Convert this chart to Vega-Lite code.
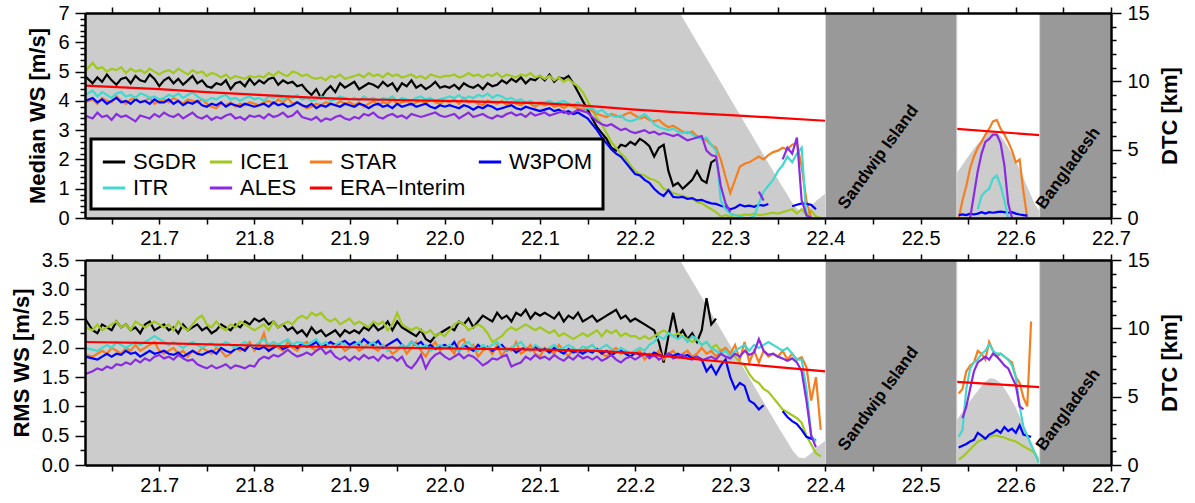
{
"$schema": "https://vega.github.io/schema/vega-lite/v6.json",
"padding": {"left": 10, "top": 3, "right": 5, "bottom": 3},
"background": "white",
"bounds": "flush",
"spacing": 42,
"config": {
  "font": "Liberation Sans",
  "view": {"stroke": null},
  "axis": {"labelFont": "Liberation Sans", "labelFontSize": 20, "labelColor": "black", "titleFont": "Liberation Sans", "titleFontSize": 22, "titleFontWeight": "bold", "titleColor": "black", "domainColor": "black", "domainWidth": 2.5, "tickColor": "black", "tickWidth": 1.5, "grid": false, "labelFlush": false, "labelOverlap": false, "labelBound": false, "zindex": 1}
},
"datasets": {
"dtc": [{"x":21.622,"d":15},{"x":22.247,"d":15},{"x":22.352,"d":2.6},{"x":22.36,"d":1.7},{"x":22.366,"d":1.0},{"x":22.372,"d":0.55},{"x":22.378,"d":0.5},{"x":22.384,"d":0.8},{"x":22.39,"d":1.25},{"x":22.4,"d":1.8},{"x":22.401,"d":0},{"x":22.537,"d":0},{"x":22.538,"d":3.3},{"x":22.547,"d":4.2},{"x":22.555,"d":5.0},{"x":22.562,"d":5.6},{"x":22.568,"d":6.1},{"x":22.573,"d":6.35},{"x":22.578,"d":6.3},{"x":22.584,"d":6.0},{"x":22.59,"d":5.4},{"x":22.6,"d":4.2},{"x":22.61,"d":2.6},{"x":22.62,"d":1.0},{"x":22.625,"d":0.5},{"x":22.626,"d":0}],
"land": [{"a":22.4,"b":22.538,"t":22.425,"n":"Sandwip Island"},{"a":22.625,"b":22.7,"t":22.633,"n":"Bangladesh"}],
"eraTop": [{"x":21.622,"v":4.52},{"x":21.65,"v":4.48},{"x":21.7,"v":4.4},{"x":21.75,"v":4.3},{"x":21.8,"v":4.21},{"x":21.85,"v":4.13},{"x":21.9,"v":4.06},{"x":21.95,"v":4.03},{"x":22.0,"v":4.0},{"x":22.1,"v":3.92},{"x":22.15,"v":3.83},{"x":22.2,"v":3.7},{"x":22.25,"v":3.6},{"x":22.3,"v":3.51},{"x":22.35,"v":3.42},{"x":22.4,"v":3.32},{"x":22.47},{"x":22.538,"v":3.04},{"x":22.625,"v":2.83}],
"eraBot": [{"x":21.622,"v":2.1},{"x":21.7,"v":2.08},{"x":21.8,"v":2.04},{"x":21.9,"v":2.01},{"x":22.0,"v":1.99},{"x":22.1,"v":1.97},{"x":22.16,"v":1.95},{"x":22.2,"v":1.91},{"x":22.25,"v":1.83},{"x":22.3,"v":1.75},{"x":22.35,"v":1.67},{"x":22.4,"v":1.6},{"x":22.47},{"x":22.538,"v":1.42},{"x":22.625,"v":1.33}],
"med": [
{"x":21.622,"S":4.85,"I":5.0,"T":3.95,"W":4.0,"R":4.2,"A":3.5},
{"x":21.63,"S":4.6,"I":5.3,"T":4.05,"W":4.1,"R":4.35,"A":3.4},
{"x":21.635,"S":4.8,"I":5.1,"T":3.9,"W":3.95,"R":4.15,"A":3.6},
{"x":21.64,"S":4.65,"I":5.15,"T":4.1,"W":4.05,"R":4.3,"A":3.45},
{"x":21.645,"S":4.9,"I":5.0,"T":4.0,"W":3.9,"R":4.2,"A":3.5},
{"x":21.65,"S":4.7,"I":5.1,"T":3.95,"W":4.0,"R":4.1,"A":3.35},
{"x":21.655,"S":4.55,"I":5.05,"T":4.15,"W":4.1,"R":4.25,"A":3.55},
{"x":21.66,"S":4.75,"I":5.15,"T":4.0,"W":3.95,"R":4.3,"A":3.45},
{"x":21.665,"S":4.8,"I":4.95,"T":3.9,"W":4.0,"R":4.15,"A":3.5},
{"x":21.67,"S":4.6,"I":5.1,"T":4.05,"W":3.9,"R":4.2,"A":3.4},
{"x":21.675,"S":4.85,"I":5.0,"T":4.1,"W":4.05,"R":4.1,"A":3.3},
{"x":21.68,"S":4.7,"I":5.05,"T":3.95,"W":3.95,"R":4.25,"A":3.5},
{"x":21.685,"S":4.65,"I":4.95,"T":4.0,"W":4.0,"R":4.2,"A":3.45},
{"x":21.69,"S":4.9,"I":5.1,"T":4.1,"W":3.9,"R":4.1,"A":3.4},
{"x":21.695,"S":4.75,"I":5.0,"T":3.9,"W":4.05,"R":4.15,"A":3.55},
{"x":21.7,"S":4.5,"I":4.9,"T":4.0,"W":3.95,"R":4.05,"A":3.45},
{"x":21.705,"S":4.7,"I":5.0,"T":4.05,"W":3.95,"R":4.1,"A":3.6},
{"x":21.71,"S":4.8,"I":5.05,"T":3.95,"W":4.05,"R":4.2,"A":3.5},
{"x":21.715,"S":4.6,"I":4.95,"T":4.1,"W":3.9,"R":4.15,"A":3.45},
{"x":21.72,"S":4.75,"I":5.1,"T":4.0,"W":4.0,"R":4.25,"A":3.55},
{"x":21.725,"S":4.55,"I":5.0,"T":3.9,"W":3.85,"R":4.1,"A":3.4},
{"x":21.73,"S":4.7,"I":4.9,"T":4.05,"W":3.95,"R":4.2,"A":3.5},
{"x":21.735,"S":4.85,"I":5.05,"T":4.0,"W":3.9,"R":4.3,"A":3.6},
{"x":21.74,"S":4.6,"I":4.95,"T":3.95,"W":4.0,"R":4.15,"A":3.45},
{"x":21.745,"S":4.7,"I":5.0,"T":4.05,"W":3.85,"R":4.05,"A":3.4},
{"x":21.75,"S":4.5,"I":4.85,"T":3.9,"W":3.8,"R":4.0,"A":3.5},
{"x":21.755,"S":4.45,"I":4.95,"T":3.8,"W":3.9,"R":4.1,"A":3.35},
{"x":21.76,"S":4.6,"I":4.9,"T":3.75,"W":3.85,"R":4.05,"A":3.45},
{"x":21.765,"S":4.55,"I":4.8,"T":3.9,"W":3.95,"R":4.15,"A":3.4},
{"x":21.77,"S":4.7,"I":4.9,"T":3.85,"W":3.8,"R":4.2,"A":3.5},
{"x":21.775,"S":4.4,"I":4.75,"T":3.95,"W":3.9,"R":4.05,"A":3.55},
{"x":21.78,"S":4.6,"I":4.85,"T":3.8,"W":3.85,"R":4.1,"A":3.4},
{"x":21.785,"S":4.65,"I":4.8,"T":3.9,"W":3.8,"R":4.0,"A":3.45},
{"x":21.79,"S":4.5,"I":4.75,"T":3.85,"W":3.9,"R":4.1,"A":3.35},
{"x":21.795,"S":4.75,"I":4.85,"T":3.95,"W":3.85,"R":4.15,"A":3.5},
{"x":21.8,"S":4.55,"I":4.8,"T":3.9,"W":3.8,"R":4.05,"A":3.45},
{"x":21.805,"S":4.7,"I":4.85,"T":3.85,"W":3.85,"R":4.1,"A":3.5},
{"x":21.81,"S":4.6,"I":4.8,"T":3.95,"W":3.9,"R":4.0,"A":3.4},
{"x":21.815,"S":4.75,"I":4.95,"T":4.0,"W":3.8,"R":4.15,"A":3.55},
{"x":21.82,"S":4.8,"I":4.85,"T":3.9,"W":3.95,"R":4.1,"A":3.45},
{"x":21.825,"S":4.55,"I":5.0,"T":4.05,"W":3.85,"R":4.2,"A":3.5},
{"x":21.83,"S":4.7,"I":4.9,"T":3.95,"W":3.9,"R":4.05,"A":3.6},
{"x":21.835,"S":4.6,"I":4.85,"T":4.1,"W":3.8,"R":4.15,"A":3.45},
{"x":21.84,"S":4.65,"I":5.0,"T":3.9,"W":3.85,"R":4.1,"A":3.5},
{"x":21.845,"S":4.5,"I":4.95,"T":3.95,"W":3.95,"R":4.2,"A":3.65},
{"x":21.85,"S":4.55,"I":4.85,"T":3.85,"W":3.85,"R":4.05,"A":3.45},
{"x":21.855,"S":4.35,"I":4.9,"T":3.75,"W":3.8,"R":4.1,"A":3.4},
{"x":21.86,"S":4.2,"I":4.8,"T":3.8,"W":3.9,"R":4.0,"A":3.35},
{"x":21.865,"S":4.4,"I":4.75,"T":3.9,"W":3.75,"R":4.05,"A":3.45},
{"x":21.87,"S":4.1,"I":4.8,"T":3.85,"W":3.85,"R":4.15,"A":3.3},
{"x":21.875,"S":4.35,"I":4.7,"T":3.95,"W":3.8,"R":4.1,"A":3.4},
{"x":21.88,"S":4.5,"I":4.85,"T":3.9,"W":3.9,"R":4.0,"A":3.35},
{"x":21.885,"S":4.3,"I":4.8,"T":3.85,"W":3.85,"R":4.05,"A":3.45},
{"x":21.89,"S":4.6,"I":4.9,"T":4.0,"W":3.8,"R":4.15,"A":3.5},
{"x":21.895,"S":4.45,"I":4.75,"T":3.9,"W":3.9,"R":4.1,"A":3.4},
{"x":21.9,"S":4.55,"I":4.8,"T":3.95,"W":3.85,"R":4.05,"A":3.35},
{"x":21.905,"S":4.65,"I":4.85,"T":3.85,"W":3.8,"R":4.1,"A":3.45},
{"x":21.91,"S":4.4,"I":4.9,"T":3.95,"W":3.9,"R":4.0,"A":3.4},
{"x":21.915,"S":4.5,"I":4.8,"T":3.8,"W":3.85,"R":4.15,"A":3.55},
{"x":21.92,"S":4.6,"I":4.95,"T":3.9,"W":3.75,"R":4.05,"A":3.5},
{"x":21.925,"S":4.55,"I":4.85,"T":4.0,"W":3.85,"R":4.1,"A":3.6},
{"x":21.93,"S":4.45,"I":4.9,"T":3.85,"W":3.9,"R":4.0,"A":3.45},
{"x":21.935,"S":4.65,"I":4.8,"T":3.95,"W":3.8,"R":4.1,"A":3.4},
{"x":21.94,"S":4.5,"I":4.95,"T":3.9,"W":3.85,"R":4.05,"A":3.5},
{"x":21.945,"S":4.6,"I":4.85,"T":4.05,"W":3.75,"R":4.15,"A":3.55},
{"x":21.95,"S":4.35,"I":4.9,"T":3.9,"W":3.9,"R":4.0,"A":3.45},
{"x":21.955,"S":4.6,"I":4.8,"T":3.95,"W":3.8,"R":4.1,"A":3.5},
{"x":21.96,"S":4.5,"I":4.85,"T":4.0,"W":3.85,"R":4.05,"A":3.4},
{"x":21.965,"S":4.7,"I":4.9,"T":3.85,"W":3.9,"R":4.0,"A":3.55},
{"x":21.97,"S":4.45,"I":4.8,"T":3.95,"W":3.8,"R":4.1,"A":3.5},
{"x":21.975,"S":4.55,"I":4.85,"T":4.0,"W":3.85,"R":4.15,"A":3.45},
{"x":21.98,"S":4.4,"I":4.75,"T":3.9,"W":3.9,"R":4.05,"A":3.5},
{"x":21.985,"S":4.5,"I":4.9,"T":4.05,"W":3.8,"R":4.1,"A":3.55},
{"x":21.99,"S":4.65,"I":4.85,"T":3.95,"W":3.75,"R":4.0,"A":3.6},
{"x":21.995,"S":4.45,"I":4.8,"T":3.9,"W":3.85,"R":4.05,"A":3.5},
{"x":22.0,"S":4.5,"I":4.85,"T":4.0,"W":3.8,"R":4.1,"A":3.45},
{"x":22.005,"S":4.45,"I":4.85,"T":3.95,"W":3.85,"R":4.15,"A":3.5},
{"x":22.01,"S":4.55,"I":4.9,"T":4.05,"W":3.8,"R":4.1,"A":3.55},
{"x":22.015,"S":4.4,"I":4.8,"T":3.9,"W":3.75,"R":4.2,"A":3.4},
{"x":22.02,"S":4.6,"I":4.85,"T":4.1,"W":3.85,"R":4.05,"A":3.5},
{"x":22.025,"S":4.5,"I":4.95,"T":3.95,"W":3.8,"R":4.15,"A":3.6},
{"x":22.03,"S":4.45,"I":4.85,"T":4.0,"W":3.7,"R":4.1,"A":3.45},
{"x":22.035,"S":4.55,"I":4.9,"T":3.9,"W":3.8,"R":4.2,"A":3.5},
{"x":22.04,"S":4.4,"I":4.8,"T":3.85,"W":3.75,"R":4.15,"A":3.55},
{"x":22.045,"S":4.6,"I":4.9,"T":4.0,"W":3.85,"R":4.25,"A":3.45},
{"x":22.05,"S":4.5,"I":4.85,"T":3.95,"W":3.8,"R":4.1,"A":3.4},
{"x":22.055,"S":4.55,"I":4.95,"T":3.9,"W":3.7,"R":4.2,"A":3.5},
{"x":22.06,"S":4.7,"I":4.8,"T":4.0,"W":3.75,"R":4.15,"A":3.45},
{"x":22.065,"S":4.6,"I":4.9,"T":3.85,"W":3.8,"R":4.05,"A":3.55},
{"x":22.07,"S":4.75,"I":4.85,"T":3.95,"W":3.85,"R":4.1,"A":3.6},
{"x":22.075,"S":4.65,"I":4.8,"T":3.9,"W":3.75,"R":4.0,"A":3.5},
{"x":22.08,"S":4.8,"I":4.9,"T":3.85,"W":3.7,"R":4.05,"A":3.55},
{"x":22.085,"S":4.6,"I":4.85,"T":3.95,"W":3.8,"R":3.95,"A":3.45},
{"x":22.09,"S":4.75,"I":4.95,"T":3.9,"W":3.75,"R":4.0,"A":3.6},
{"x":22.095,"S":4.7,"I":4.8,"T":3.8,"W":3.7,"R":3.9,"A":3.5},
{"x":22.1,"S":4.85,"I":4.85,"T":3.9,"W":3.65,"R":3.95,"A":3.55},
{"x":22.105,"S":4.7,"I":4.75,"T":3.85,"W":3.7,"R":3.95,"A":3.6},
{"x":22.11,"S":4.9,"I":4.85,"T":3.9,"W":3.75,"R":4.0,"A":3.5},
{"x":22.115,"S":4.65,"I":4.7,"T":3.8,"W":3.65,"R":3.9,"A":3.55},
{"x":22.12,"S":4.8,"I":4.8,"T":3.85,"W":3.7,"R":3.95,"A":3.6},
{"x":22.125,"S":4.75,"I":4.65,"T":3.75,"W":3.6,"R":4.0,"A":3.65},
{"x":22.13,"S":4.85,"I":4.75,"T":3.85,"W":3.65,"R":3.9,"A":3.55},
{"x":22.135,"S":4.6,"I":4.6,"T":3.8,"W":3.55,"R":3.85,"A":3.6},
{"x":22.14,"S":4.3,"I":4.5,"T":3.75,"W":3.6,"R":3.95,"A":3.7},
{"x":22.145,"S":4.0,"I":4.3,"T":3.7,"W":3.5,"R":3.8,"A":3.65},
{"x":22.15,"S":3.7,"I":4.0,"T":3.75,"W":3.4,"R":3.75,"A":3.6},
{"x":22.155,"S":3.4,"I":3.7,"T":3.65,"W":3.2,"R":3.75,"A":3.45},
{"x":22.16,"S":3.1,"I":3.4,"T":3.55,"W":3.0,"R":3.6,"A":3.3},
{"x":22.165,"S":2.9,"I":3.2,"T":3.5,"W":2.75,"R":3.7,"A":3.2},
{"x":22.17,"S":2.7,"I":2.9,"T":3.45,"W":2.55,"R":3.55,"A":3.15},
{"x":22.175,"S":2.4,"I":2.6,"T":3.55,"W":2.35,"R":3.5,"A":3.2},
{"x":22.18,"S":2.3,"I":2.4,"T":3.5,"W":2.2,"R":3.45,"A":3.1},
{"x":22.185,"S":2.5,"I":2.2,"T":3.45,"W":2.1,"R":3.5,"A":3.0},
{"x":22.19,"S":2.45,"I":2.05,"T":3.55,"W":1.9,"R":3.35,"A":3.05},
{"x":22.195,"S":2.6,"I":1.8,"T":3.6,"W":1.7,"R":3.3,"A":2.95},
{"x":22.2,"S":2.5,"I":1.6,"T":3.5,"W":1.5,"R":3.35,"A":2.9},
{"x":22.205,"S":2.7,"I":1.5,"T":3.4,"W":1.45,"R":3.45,"A":2.95},
{"x":22.21,"S":2.6,"I":1.45,"T":3.45,"W":1.3,"R":3.55,"A":3.0},
{"x":22.215,"S":2.45,"I":1.35,"T":3.35,"W":1.2,"R":3.4,"A":2.9},
{"x":22.22,"S":2.1,"I":1.3,"T":3.3,"W":1.0,"R":3.2,"A":2.95},
{"x":22.225,"S":2.4,"I":1.2,"T":3.35,"W":0.85,"R":3.1,"A":2.85},
{"x":22.23,"S":2.5,"I":1.0,"T":3.2,"W":0.75,"R":3.05,"A":2.9},
{"x":22.235,"S":1.6,"I":0.95,"T":3.1,"W":0.95,"R":3.0,"A":2.85},
{"x":22.24,"S":1.1,"I":0.85,"T":3.15,"W":0.72,"R":3.05,"A":2.8},
{"x":22.245,"S":1.2,"I":0.8,"T":3.05,"W":0.7,"R":2.95,"A":2.85},
{"x":22.25,"S":1.0,"I":0.75,"T":2.95,"W":0.72,"R":2.9,"A":2.75},
{"x":22.255,"S":1.15,"I":0.7,"T":2.9,"W":0.65,"R":2.95,"A":2.65},
{"x":22.26,"S":1.3,"I":0.65,"T":2.95,"W":0.68,"R":2.85,"A":2.7},
{"x":22.265,"S":1.6,"I":0.55,"T":2.8,"W":0.6,"R":2.75,"A":2.75},
{"x":22.27,"S":1.3,"I":0.5,"T":2.75,"W":0.62,"R":2.7,"A":2.8},
{"x":22.275,"S":1.2,"I":0.4,"T":2.65,"W":0.55,"R":2.75,"A":2.3},
{"x":22.28,"S":1.9,"I":0.3,"T":2.5,"W":0.5,"R":2.5,"A":2.15},
{"x":22.285,"S":2.0,"I":0.2,"T":2.4,"W":0.48,"R":2.3,"A":2.1},
{"x":22.29,"I":0.05,"T":2.0,"W":0.42,"R":0.6,"A":1.1},
{"x":22.295,"I":0.1,"T":1.4,"W":0.38,"R":0.3,"A":0.5},
{"x":22.3,"I":0.05,"T":0.85,"W":0.3,"R":0.15,"A":0.2},
{"x":22.305,"I":0.1,"T":1.3,"W":0.35,"R":0.1},
{"x":22.31,"I":0.08,"T":1.75,"W":0.45,"R":0.05},
{"x":22.315,"I":0.12,"T":1.85,"W":0.4,"R":0.0},
{"x":22.32,"I":0.1,"T":1.9,"W":0.42,"R":0.0},
{"x":22.325,"I":0.15,"T":2.0,"W":0.38,"R":0.05},
{"x":22.33,"I":0.1,"T":2.1,"W":0.45,"R":0.5,"A":0.9},
{"x":22.335,"I":0.12,"T":2.0,"W":0.42,"R":0.9,"A":0.6},
{"x":22.34,"I":0.15,"T":2.15,"W":0.48,"R":1.1},
{"x":22.345,"I":0.18,"T":2.25,"R":1.3},
{"x":22.35,"I":0.15,"T":2.3,"R":1.6},
{"x":22.355,"I":0.2,"T":2.4,"R":1.8,"A":2.0},
{"x":22.36,"I":0.25,"T":2.35,"R":2.1,"A":2.4},
{"x":22.365,"I":0.3,"T":2.5,"W":0.4,"R":1.9,"A":2.2},
{"x":22.37,"I":0.15,"T":2.55,"W":0.45,"R":2.2,"A":2.75},
{"x":22.375,"I":0.3,"T":1.75,"W":0.5,"R":2.4,"A":0.6},
{"x":22.38,"I":0.1,"T":0.6,"W":0.48,"R":0.0,"A":0.1},
{"x":22.385,"I":0.25,"T":0.0,"W":0.45,"A":0.0},
{"x":22.39,"I":0.05,"W":0.3},
{"x":22.395,"I":0.0},
{"x":22.47},
{"x":22.54,"T":0.0,"W":0.1},
{"x":22.544,"T":0.6,"W":0.12},
{"x":22.548,"T":1.1,"W":0.1},
{"x":22.552,"T":1.7,"W":0.15,"A":0.0},
{"x":22.556,"T":2.1,"W":0.12,"A":0.8},
{"x":22.56,"T":2.4,"W":0.15,"A":1.6,"R":0.3},
{"x":22.564,"T":2.6,"W":0.2,"A":2.2,"R":0.75},
{"x":22.568,"T":2.85,"W":0.15,"A":2.6,"R":0.9},
{"x":22.572,"T":3.05,"W":0.2,"A":2.7,"R":1.0},
{"x":22.576,"T":3.3,"W":0.18,"A":2.85,"R":1.35},
{"x":22.58,"T":3.35,"W":0.2,"A":2.85,"R":1.45},
{"x":22.584,"T":3.05,"W":0.22,"A":2.55,"R":1.1},
{"x":22.588,"T":2.85,"W":0.2,"A":1.8,"R":0.6},
{"x":22.592,"T":2.6,"W":0.18,"A":0.5,"R":0.0},
{"x":22.596,"T":2.3,"W":0.2,"A":0.0},
{"x":22.6,"T":1.9,"W":0.15},
{"x":22.604,"T":2.0,"W":0.12},
{"x":22.608,"T":0.9,"W":0.1},
{"x":22.612,"T":0.0,"W":0.08}
],
"rms": [
{"x":21.622,"S":2.5,"I":2.35,"T":1.88,"W":1.85,"R":2.0,"A":1.55},
{"x":21.63,"S":2.3,"I":2.3,"T":1.85,"W":1.82,"R":1.97,"A":1.6},
{"x":21.635,"S":2.25,"I":2.4,"T":1.9,"W":1.8,"R":1.95,"A":1.65},
{"x":21.64,"S":2.4,"I":2.3,"T":1.95,"W":1.85,"R":2.0,"A":1.62},
{"x":21.645,"S":2.35,"I":2.35,"T":1.9,"W":1.9,"R":2.05,"A":1.68},
{"x":21.65,"S":2.3,"I":2.4,"T":2.0,"W":1.85,"R":2.0,"A":1.65},
{"x":21.655,"S":2.45,"I":2.45,"T":1.95,"W":1.9,"R":2.1,"A":1.72},
{"x":21.66,"S":2.35,"I":2.35,"T":1.9,"W":1.88,"R":2.05,"A":1.7},
{"x":21.665,"S":2.4,"I":2.4,"T":2.0,"W":1.95,"R":2.0,"A":1.75},
{"x":21.67,"S":2.3,"I":2.3,"T":1.95,"W":1.9,"R":2.05,"A":1.72},
{"x":21.675,"S":2.35,"I":2.45,"T":2.05,"W":1.92,"R":2.1,"A":1.8},
{"x":21.68,"S":2.25,"I":2.4,"T":1.95,"W":1.85,"R":2.05,"A":1.75},
{"x":21.685,"S":2.4,"I":2.35,"T":2.0,"W":1.9,"R":2.1,"A":1.82},
{"x":21.69,"S":2.45,"I":2.4,"T":2.05,"W":1.95,"R":2.15,"A":1.78},
{"x":21.695,"S":2.3,"I":2.45,"T":2.1,"W":1.9,"R":2.2,"A":1.85},
{"x":21.7,"S":2.35,"I":2.4,"T":1.95,"W":1.92,"R":2.15,"A":1.88},
{"x":21.705,"S":2.4,"I":2.35,"T":1.9,"W":1.95,"R":2.1,"A":1.82},
{"x":21.71,"S":2.3,"I":2.4,"T":1.95,"W":1.9,"R":2.05,"A":1.85},
{"x":21.715,"S":2.35,"I":2.3,"T":2.0,"W":1.88,"R":2.1,"A":1.8},
{"x":21.72,"S":2.25,"I":2.45,"T":1.9,"W":1.92,"R":2.05,"A":1.88},
{"x":21.725,"S":2.4,"I":2.35,"T":1.95,"W":1.85,"R":2.0,"A":1.82},
{"x":21.73,"S":2.3,"I":2.3,"T":1.85,"W":1.9,"R":2.05,"A":1.78},
{"x":21.735,"S":2.35,"I":2.4,"T":1.95,"W":1.95,"R":2.1,"A":1.8},
{"x":21.74,"S":2.4,"I":2.5,"T":1.9,"W":1.9,"R":2.05,"A":1.72},
{"x":21.745,"S":2.3,"I":2.55,"T":2.0,"W":1.88,"R":2.0,"A":1.68},
{"x":21.75,"S":2.35,"I":2.4,"T":1.95,"W":1.92,"R":2.05,"A":1.65},
{"x":21.755,"S":2.25,"I":2.35,"T":1.9,"W":1.95,"R":2.08,"A":1.7},
{"x":21.76,"S":2.3,"I":2.45,"T":2.0,"W":1.9,"R":2.02,"A":1.65},
{"x":21.765,"S":2.4,"I":2.35,"T":1.95,"W":2.0,"R":2.05,"A":1.68},
{"x":21.77,"S":2.35,"I":2.3,"T":1.85,"W":1.95,"R":2.1,"A":1.72},
{"x":21.775,"S":2.3,"I":2.4,"T":1.9,"W":1.92,"R":2.05,"A":1.65},
{"x":21.78,"S":2.4,"I":2.35,"T":2.0,"W":1.98,"R":2.0,"A":1.7},
{"x":21.785,"S":2.35,"I":2.45,"T":1.95,"W":2.0,"R":2.05,"A":1.68},
{"x":21.79,"S":2.45,"I":2.4,"T":2.0,"W":1.95,"R":2.1,"A":1.65},
{"x":21.795,"S":2.4,"I":2.35,"T":2.1,"W":2.05,"R":2.05,"A":1.7},
{"x":21.8,"S":2.5,"I":2.3,"T":1.95,"W":2.0,"R":2.02,"A":1.68},
{"x":21.805,"S":2.45,"I":2.35,"T":2.05,"W":1.98,"R":2.1,"A":1.8},
{"x":21.81,"S":2.5,"I":2.4,"T":2.25,"W":2.02,"R":2.15,"A":1.85},
{"x":21.815,"S":2.4,"I":2.3,"T":1.95,"W":1.95,"R":2.05,"A":1.82},
{"x":21.82,"S":2.45,"I":2.45,"T":2.05,"W":2.0,"R":2.1,"A":1.88},
{"x":21.825,"S":2.35,"I":2.35,"T":2.0,"W":2.05,"R":2.05,"A":1.85},
{"x":21.83,"S":2.4,"I":2.4,"T":1.95,"W":1.98,"R":2.1,"A":1.9},
{"x":21.835,"S":2.3,"I":2.45,"T":2.1,"W":2.02,"R":2.15,"A":1.97},
{"x":21.84,"S":2.35,"I":2.4,"T":2.0,"W":2.05,"R":2.05,"A":1.9},
{"x":21.845,"S":2.25,"I":2.5,"T":1.95,"W":2.0,"R":2.1,"A":1.85},
{"x":21.85,"S":2.3,"I":2.55,"T":2.05,"W":2.08,"R":2.08,"A":1.88},
{"x":21.855,"S":2.2,"I":2.5,"T":2.1,"W":2.02,"R":2.05,"A":1.92},
{"x":21.86,"S":2.35,"I":2.6,"T":2.0,"W":2.05,"R":2.1,"A":1.88},
{"x":21.865,"S":2.25,"I":2.55,"T":1.95,"W":2.1,"R":2.15,"A":1.95},
{"x":21.87,"S":2.3,"I":2.6,"T":2.05,"W":2.0,"R":2.05,"A":2.0},
{"x":21.875,"S":2.2,"I":2.5,"T":2.0,"W":2.05,"R":2.1,"A":1.9},
{"x":21.88,"S":2.25,"I":2.45,"T":2.1,"W":2.1,"R":2.0,"A":1.95},
{"x":21.885,"S":2.3,"I":2.5,"T":2.0,"W":2.05,"R":2.05,"A":1.85},
{"x":21.89,"S":2.2,"I":2.4,"T":2.05,"W":2.08,"R":2.1,"A":1.8},
{"x":21.895,"S":2.3,"I":2.45,"T":1.95,"W":2.12,"R":2.05,"A":1.85},
{"x":21.9,"S":2.25,"I":2.5,"T":2.0,"W":2.05,"R":2.0,"A":1.78},
{"x":21.905,"S":2.3,"I":2.4,"T":2.05,"W":2.1,"R":2.05,"A":1.85},
{"x":21.91,"S":2.25,"I":2.45,"T":1.95,"W":2.05,"R":2.1,"A":1.8},
{"x":21.915,"S":2.35,"I":2.4,"T":2.0,"W":2.15,"R":2.0,"A":1.88},
{"x":21.92,"S":2.3,"I":2.35,"T":2.1,"W":2.08,"R":2.05,"A":1.82},
{"x":21.925,"S":2.4,"I":2.45,"T":2.0,"W":2.05,"R":2.1,"A":1.85},
{"x":21.93,"S":2.3,"I":2.4,"T":1.95,"W":2.12,"R":2.0,"A":1.78},
{"x":21.935,"S":2.35,"I":2.45,"T":2.05,"W":2.0,"R":2.05,"A":1.88},
{"x":21.94,"S":2.45,"I":2.3,"T":2.0,"W":2.05,"R":1.95,"A":1.82},
{"x":21.945,"S":2.3,"I":2.4,"T":1.9,"W":2.1,"R":2.0,"A":1.85},
{"x":21.95,"S":2.45,"I":2.6,"T":1.95,"W":2.15,"R":1.98,"A":1.78},
{"x":21.955,"S":2.35,"I":2.4,"T":2.05,"W":2.05,"R":2.05,"A":1.85},
{"x":21.96,"S":2.3,"I":2.35,"T":1.9,"W":2.0,"R":2.0,"A":1.7},
{"x":21.965,"S":2.25,"I":2.3,"T":2.0,"W":2.1,"R":2.1,"A":1.65},
{"x":21.97,"S":2.2,"I":2.35,"T":2.1,"W":2.05,"R":2.05,"A":1.75},
{"x":21.975,"S":2.3,"I":2.3,"T":1.95,"W":2.1,"R":2.0,"A":1.88},
{"x":21.98,"S":2.15,"I":2.25,"T":1.85,"W":2.0,"R":2.05,"A":1.65},
{"x":21.985,"S":2.1,"I":2.3,"T":2.0,"W":2.05,"R":1.95,"A":1.8},
{"x":21.99,"S":2.2,"I":2.2,"T":2.1,"W":1.98,"R":2.0,"A":1.88},
{"x":21.995,"S":2.25,"I":2.25,"T":1.95,"W":2.02,"R":2.05,"A":1.92},
{"x":22.0,"S":2.3,"I":2.2,"T":2.05,"W":2.05,"R":2.0,"A":1.85},
{"x":22.005,"S":2.35,"I":2.3,"T":2.0,"W":2.0,"R":2.05,"A":1.8},
{"x":22.01,"S":2.3,"I":2.4,"T":1.9,"W":2.1,"R":2.0,"A":1.85},
{"x":22.015,"S":2.45,"I":2.45,"T":2.1,"W":1.95,"R":1.95,"A":1.9},
{"x":22.02,"S":2.4,"I":2.4,"T":2.15,"W":2.05,"R":2.05,"A":1.82},
{"x":22.025,"S":2.5,"I":2.3,"T":1.95,"W":2.0,"R":2.1,"A":1.88},
{"x":22.03,"S":2.35,"I":2.35,"T":2.05,"W":1.95,"R":2.0,"A":1.85},
{"x":22.035,"S":2.45,"I":2.4,"T":1.85,"W":2.05,"R":1.95,"A":1.78},
{"x":22.04,"S":2.55,"I":2.35,"T":1.95,"W":1.98,"R":2.05,"A":1.7},
{"x":22.045,"S":2.5,"I":2.25,"T":2.0,"W":2.02,"R":2.0,"A":1.75},
{"x":22.05,"S":2.45,"I":2.1,"T":1.9,"W":1.95,"R":2.05,"A":1.82},
{"x":22.055,"S":2.6,"I":2.15,"T":2.05,"W":2.0,"R":2.1,"A":1.8},
{"x":22.06,"S":2.5,"I":2.2,"T":1.85,"W":2.05,"R":2.0,"A":1.85},
{"x":22.065,"S":2.55,"I":2.3,"T":2.0,"W":1.95,"R":1.95,"A":1.88},
{"x":22.07,"S":2.45,"I":2.35,"T":1.95,"W":2.0,"R":2.0,"A":1.68},
{"x":22.075,"S":2.6,"I":2.3,"T":2.1,"W":1.92,"R":2.05,"A":1.72},
{"x":22.08,"S":2.55,"I":2.35,"T":1.9,"W":1.98,"R":2.1,"A":1.75},
{"x":22.085,"S":2.65,"I":2.4,"T":1.95,"W":2.0,"R":2.0,"A":1.85},
{"x":22.09,"S":2.5,"I":2.35,"T":2.05,"W":1.95,"R":1.95,"A":1.8},
{"x":22.095,"S":2.6,"I":2.3,"T":1.9,"W":2.02,"R":2.05,"A":1.88},
{"x":22.1,"S":2.55,"I":2.35,"T":1.85,"W":1.95,"R":2.0,"A":1.82},
{"x":22.105,"S":2.6,"I":2.3,"T":2.0,"W":1.98,"R":1.95,"A":1.85},
{"x":22.11,"S":2.55,"I":2.25,"T":1.95,"W":1.92,"R":2.0,"A":1.8},
{"x":22.115,"S":2.5,"I":2.3,"T":1.9,"W":2.0,"R":2.05,"A":1.88},
{"x":22.12,"S":2.6,"I":2.2,"T":2.05,"W":1.95,"R":1.98,"A":1.82},
{"x":22.125,"S":2.45,"I":2.25,"T":1.95,"W":1.9,"R":2.0,"A":1.78},
{"x":22.13,"S":2.55,"I":2.2,"T":1.85,"W":1.98,"R":2.05,"A":1.85},
{"x":22.135,"S":2.5,"I":2.15,"T":2.0,"W":1.92,"R":2.0,"A":1.8},
{"x":22.14,"S":2.6,"I":2.2,"T":1.9,"W":1.95,"R":1.95,"A":1.88},
{"x":22.145,"S":2.45,"I":2.25,"T":1.95,"W":1.9,"R":2.02,"A":1.82},
{"x":22.15,"S":2.5,"I":2.2,"T":2.0,"W":1.95,"R":2.0,"A":1.85},
{"x":22.155,"S":2.55,"I":2.25,"T":2.05,"W":1.92,"R":2.05,"A":1.8},
{"x":22.16,"S":2.45,"I":2.3,"T":1.95,"W":1.98,"R":1.95,"A":1.85},
{"x":22.165,"S":2.5,"I":2.2,"T":1.9,"W":1.9,"R":2.0,"A":1.78},
{"x":22.17,"S":2.55,"I":2.3,"T":1.85,"W":1.95,"R":2.05,"A":1.82},
{"x":22.175,"S":2.6,"I":2.25,"T":1.95,"W":1.88,"R":1.98,"A":1.88},
{"x":22.18,"S":2.65,"I":2.3,"T":2.0,"W":1.92,"R":1.92,"A":1.8},
{"x":22.185,"S":2.5,"I":2.2,"T":1.9,"W":1.95,"R":2.0,"A":1.75},
{"x":22.19,"S":2.55,"I":2.25,"T":1.95,"W":1.9,"R":1.95,"A":1.82},
{"x":22.195,"S":2.45,"I":2.2,"T":1.85,"W":1.85,"R":1.9,"A":1.85},
{"x":22.2,"S":2.5,"I":2.2,"T":1.9,"W":1.92,"R":1.95,"A":1.8},
{"x":22.205,"S":2.45,"I":2.15,"T":1.95,"W":1.88,"R":2.0,"A":1.85},
{"x":22.21,"S":2.4,"I":2.2,"T":1.8,"W":1.9,"R":1.95,"A":1.9},
{"x":22.215,"S":2.35,"I":2.15,"T":1.9,"W":1.85,"R":2.05,"A":1.82},
{"x":22.22,"S":2.3,"I":2.2,"T":1.85,"W":1.92,"R":2.1,"A":1.88},
{"x":22.225,"S":2.1,"I":2.25,"T":1.95,"W":1.88,"R":2.2,"A":1.8},
{"x":22.23,"S":1.75,"I":2.3,"T":1.8,"W":1.85,"R":2.15,"A":1.85},
{"x":22.235,"S":2.2,"I":2.25,"T":1.9,"W":1.9,"R":2.25,"A":1.9},
{"x":22.24,"S":2.6,"I":2.2,"T":1.95,"W":1.86,"R":2.2,"A":1.82},
{"x":22.245,"S":2.2,"I":2.25,"T":1.85,"W":1.9,"R":2.15,"A":1.85},
{"x":22.25,"S":2.3,"I":2.2,"T":1.9,"W":1.85,"R":2.2,"A":1.88},
{"x":22.255,"S":2.15,"I":2.15,"T":1.95,"W":1.88,"R":2.1,"A":1.82},
{"x":22.26,"S":2.25,"I":2.1,"T":1.85,"W":1.82,"R":2.2,"A":1.8},
{"x":22.265,"S":2.1,"I":2.15,"T":1.9,"W":1.85,"R":2.15,"A":1.85},
{"x":22.27,"S":2.3,"I":2.05,"T":2.0,"W":1.8,"R":2.05,"A":1.78},
{"x":22.275,"S":2.85,"I":2.1,"T":1.9,"W":1.6,"R":2.1,"A":1.82},
{"x":22.28,"S":2.4,"I":2.0,"T":1.95,"W":1.7,"R":2.0,"A":1.85},
{"x":22.285,"S":2.5,"I":2.05,"T":1.85,"W":1.55,"R":1.95,"A":1.8},
{"x":22.29,"I":1.95,"T":1.95,"W":1.7,"R":1.9,"A":1.9},
{"x":22.295,"I":2.0,"T":2.0,"W":1.8,"R":1.95,"A":1.85},
{"x":22.3,"I":1.9,"T":1.9,"W":1.5,"R":1.85,"A":1.82},
{"x":22.305,"I":1.85,"T":2.05,"W":1.3,"R":1.95,"A":1.9},
{"x":22.31,"I":1.75,"T":1.8,"W":1.4,"R":2.0,"A":1.85},
{"x":22.315,"I":1.7,"T":2.1,"W":1.35,"R":2.05,"A":1.95},
{"x":22.32,"I":1.55,"T":1.75,"W":1.1,"R":1.95,"A":1.88},
{"x":22.325,"I":1.45,"T":1.95,"W":1.05,"R":2.05,"A":1.92},
{"x":22.33,"I":1.4,"T":1.75,"W":0.95,"R":2.0,"A":2.15},
{"x":22.335,"I":1.3,"T":1.95,"W":1.02,"R":2.05,"A":1.95},
{"x":22.34,"I":1.25,"T":1.85,"R":2.1,"A":1.88},
{"x":22.345,"I":1.15,"T":1.9,"R":2.05,"A":1.9},
{"x":22.35,"I":1.05,"T":1.85,"R":2.0,"A":1.85},
{"x":22.355,"I":0.95,"T":1.95,"W":0.92,"R":1.95,"A":1.82},
{"x":22.36,"I":0.9,"T":1.8,"W":0.82,"R":2.0,"A":1.78},
{"x":22.365,"I":0.85,"T":1.9,"W":0.75,"R":1.9,"A":1.82},
{"x":22.37,"I":0.8,"T":1.8,"W":0.7,"R":1.8,"A":1.75},
{"x":22.375,"I":0.72,"T":1.84,"W":0.6,"R":1.8,"A":1.6},
{"x":22.38,"I":0.5,"T":1.67,"W":0.48,"R":1.3,"A":1.1},
{"x":22.385,"I":0.35,"T":1.1,"W":0.45,"R":0.5,"A":0.5},
{"x":22.39,"I":0.2,"T":1.5,"W":0.42,"R":0.4,"A":0.3},
{"x":22.395,"I":0.15,"T":0.6},
{"x":22.47},
{"x":22.54,"I":0.09,"T":1.22,"W":0.3,"R":0.48},
{"x":22.544,"I":0.14,"T":1.3,"W":0.33,"R":0.6,"A":0.8},
{"x":22.548,"I":0.2,"T":1.6,"W":0.36,"R":1.3,"A":1.0},
{"x":22.552,"I":0.27,"T":1.7,"W":0.4,"R":1.65,"A":1.3},
{"x":22.556,"I":0.33,"T":1.75,"W":0.43,"R":1.75,"A":1.6},
{"x":22.56,"I":0.4,"T":1.95,"W":0.55,"R":1.8,"A":1.75},
{"x":22.564,"I":0.43,"T":1.9,"W":0.5,"R":1.9,"A":1.8},
{"x":22.568,"I":0.45,"T":1.8,"W":0.45,"R":1.95,"A":1.85},
{"x":22.572,"I":0.48,"T":2.1,"W":0.52,"R":2.06,"A":1.8},
{"x":22.576,"I":0.5,"T":1.95,"W":0.55,"R":1.95,"A":1.9},
{"x":22.58,"I":0.5,"T":1.85,"W":0.6,"R":1.9,"A":1.85},
{"x":22.584,"I":0.48,"T":1.9,"W":0.55,"R":1.9,"A":1.78},
{"x":22.588,"I":0.47,"T":1.85,"W":0.65,"R":1.85,"A":1.7},
{"x":22.592,"I":0.44,"T":1.8,"W":0.58,"R":1.8,"A":1.65},
{"x":22.596,"I":0.42,"T":1.75,"W":0.62,"R":1.7,"A":1.5},
{"x":22.6,"I":0.4,"T":1.5,"W":0.55,"R":1.5,"A":1.36},
{"x":22.604,"I":0.36,"T":1.4,"W":0.68,"R":1.0,"A":1.0},
{"x":22.608,"I":0.32,"T":1.15,"W":0.52,"R":0.65,"A":0.95},
{"x":22.612,"I":0.28,"T":1.0,"W":0.5,"R":0.5},
{"x":22.616,"I":0.25,"T":2.45,"W":0.48,"R":0.35},
{"x":22.62,"I":0.2,"R":0.2},
{"x":22.624,"I":0.05,"R":0.04}
]
},
"resolve": {"legend": {"color": "independent"}},
"vconcat": [
{
  "width": 1026, "height": 205,
  "resolve": {"scale": {"y": "independent"}, "axis": {"x": "independent", "y": "independent"}},
  "layer": [
    {"data": {"name": "dtc"}, "mark": {"type": "area", "color": "#cccccc", "clip": true},
     "encoding": {
       "x": {"field": "x", "type": "quantitative", "scale": {"domain": [21.622, 22.7], "nice": false, "zero": false},
             "axis": {"orient": "top", "zindex": 1, "values": [21.65,21.7,21.75,21.8,21.85,21.9,21.95,22,22.05,22.1,22.15,22.2,22.25,22.3,22.35,22.4,22.45,22.5,22.55,22.6,22.65,22.7], "labels": false, "tickSize": 6, "title": null}},
       "y": {"field": "d", "type": "quantitative", "scale": {"domain": [0, 15], "nice": false},
             "axis": {"orient": "right", "zindex": 1, "values": [0,1,2,3,4,5,6,7,8,9,10,11,12,13,14,15], "labelExpr": "datum.value % 5 === 0 ? format(datum.value, 'd') : ''", "tickSize": {"condition": {"test": "datum.value % 5 === 0", "value": 10}, "value": 5}, "labelPadding": 6, "title": "DTC [km]", "titleAngle": 270, "titleBaseline": "top", "titlePadding": 10}}
     }},
    {"layer": [
      {"data": {"name": "med"}, "transform": [{"fold": ["S","I","T","W","R","A"], "as": ["k","v"]}],
       "mark": {"type": "line", "strokeWidth": 2.2, "clip": true},
       "encoding": {
         "x": {"field": "x", "type": "quantitative", "scale": {"domain": [21.622, 22.7], "nice": false, "zero": false},
               "axis": {"orient": "bottom", "zindex": 1, "values": [21.65,21.7,21.75,21.8,21.85,21.9,21.95,22,22.05,22.1,22.15,22.2,22.25,22.3,22.35,22.4,22.45,22.5,22.55,22.6,22.65,22.7], "labelExpr": "abs(datum.value*10 - round(datum.value*10)) < 0.01 ? format(datum.value, '.1f') : ''", "tickSize": 6, "labelPadding": 4, "title": null}},
         "y": {"field": "v", "type": "quantitative", "scale": {"domain": [0, 7], "nice": false},
               "axis": {"orient": "left", "zindex": 1, "values": [0,0.2,0.4,0.6,0.8,1,1.2,1.4,1.6,1.8,2,2.2,2.4,2.6,2.8,3,3.2,3.4,3.6,3.8,4,4.2,4.4,4.6,4.8,5,5.2,5.4,5.6,5.8,6,6.2,6.4,6.6,6.8,7], "labelExpr": "abs(datum.value - round(datum.value)) < 0.01 ? format(datum.value, 'd') : ''", "tickSize": {"condition": {"test": "abs(datum.value - round(datum.value)) < 0.01", "value": 10}, "value": 5}, "labelPadding": 6, "title": "Median WS [m/s]", "titlePadding": 8}},
         "color": {"field": "k", "type": "nominal",
                   "scale": {"domain": ["S","I","T","W","R","A","E"], "range": ["#000000","#A0C820","#F57F20","#0000FF","#44D7CF","#8A2BE2","#FF0000"]},
                   "legend": {"orient": "none", "legendX": 6, "legendY": 126, "columns": 4, "direction": "horizontal", "title": null, "symbolType": "stroke", "symbolStrokeWidth": 3, "symbolSize": 500, "labelFontSize": 22, "labelFont": "Liberation Sans", "labelColor": "black", "labelOffset": 6, "fillColor": "white", "strokeColor": "black", "padding": 10, "rowPadding": 2, "columnPadding": 6,
                              "labelExpr": "datum.label === 'S' ? 'SGDR' : datum.label === 'I' ? 'ICE1' : datum.label === 'T' ? 'STAR' : datum.label === 'W' ? 'W3POM' : datum.label === 'R' ? 'ITR' : datum.label === 'A' ? 'ALES' : 'ERA−Interim'",
                              "encode": {"legend": {"update": {"strokeWidth": {"value": 3}}}}}}
       }},
      {"data": {"name": "eraTop"}, "mark": {"type": "line", "strokeWidth": 2.2, "clip": true},
       "encoding": {
         "x": {"field": "x", "type": "quantitative", "scale": {"domain": [21.622, 22.7], "nice": false, "zero": false},
               "axis": {"orient": "bottom", "zindex": 1, "values": [21.65,21.7,21.75,21.8,21.85,21.9,21.95,22,22.05,22.1,22.15,22.2,22.25,22.3,22.35,22.4,22.45,22.5,22.55,22.6,22.65,22.7], "labelExpr": "abs(datum.value*10 - round(datum.value*10)) < 0.01 ? format(datum.value, '.1f') : ''", "tickSize": 6, "labelPadding": 4, "title": null}},
         "y": {"field": "v", "type": "quantitative", "scale": {"domain": [0, 7], "nice": false},
               "axis": {"orient": "left", "zindex": 1, "values": [0,0.2,0.4,0.6,0.8,1,1.2,1.4,1.6,1.8,2,2.2,2.4,2.6,2.8,3,3.2,3.4,3.6,3.8,4,4.2,4.4,4.6,4.8,5,5.2,5.4,5.6,5.8,6,6.2,6.4,6.6,6.8,7], "labelExpr": "abs(datum.value - round(datum.value)) < 0.01 ? format(datum.value, 'd') : ''", "tickSize": {"condition": {"test": "abs(datum.value - round(datum.value)) < 0.01", "value": 10}, "value": 5}, "labelPadding": 6, "title": "Median WS [m/s]", "titlePadding": 8}},
         "color": {"datum": "E"}
       }}
    ]},
    {"data": {"name": "land"}, "mark": {"type": "rect", "color": "#999999", "stroke": "#d8d8d8", "strokeWidth": 1},
     "encoding": {
       "x": {"field": "a", "type": "quantitative", "scale": {"domain": [21.622, 22.7], "nice": false, "zero": false}, "axis": null},
       "x2": {"field": "b"}
     }},
    {"data": {"name": "land"}, "mark": {"type": "text", "angle": 306, "align": "left", "baseline": "bottom", "fontSize": 17, "fontWeight": "bold", "font": "Liberation Sans", "color": "black"},
     "encoding": {
       "x": {"field": "t", "type": "quantitative", "scale": {"domain": [21.622, 22.7], "nice": false, "zero": false}, "axis": null},
       "y": {"datum": 0.4, "type": "quantitative", "scale": {"domain": [0, 15], "nice": false}, "axis": null},
       "text": {"field": "n"}
     }}
  ]
},
{
  "width": 1026, "height": 205,
  "resolve": {"scale": {"y": "independent"}, "axis": {"x": "independent", "y": "independent"}},
  "layer": [
    {"data": {"name": "dtc"}, "mark": {"type": "area", "color": "#cccccc", "clip": true},
     "encoding": {
       "x": {"field": "x", "type": "quantitative", "scale": {"domain": [21.622, 22.7], "nice": false, "zero": false},
             "axis": {"orient": "top", "zindex": 1, "values": [21.65,21.7,21.75,21.8,21.85,21.9,21.95,22,22.05,22.1,22.15,22.2,22.25,22.3,22.35,22.4,22.45,22.5,22.55,22.6,22.65,22.7], "labels": false, "tickSize": 6, "title": null}},
       "y": {"field": "d", "type": "quantitative", "scale": {"domain": [0, 15], "nice": false},
             "axis": {"orient": "right", "zindex": 1, "values": [0,1,2,3,4,5,6,7,8,9,10,11,12,13,14,15], "labelExpr": "datum.value % 5 === 0 ? format(datum.value, 'd') : ''", "tickSize": {"condition": {"test": "datum.value % 5 === 0", "value": 10}, "value": 5}, "labelPadding": 6, "title": "DTC [km]", "titleAngle": 270, "titleBaseline": "top", "titlePadding": 10}}
     }},
    {"layer": [
      {"data": {"name": "rms"}, "transform": [{"fold": ["S","I","T","W","R","A"], "as": ["k","v"]}],
       "mark": {"type": "line", "strokeWidth": 2.2, "clip": true},
       "encoding": {
         "x": {"field": "x", "type": "quantitative", "scale": {"domain": [21.622, 22.7], "nice": false, "zero": false},
               "axis": {"orient": "bottom", "zindex": 1, "values": [21.65,21.7,21.75,21.8,21.85,21.9,21.95,22,22.05,22.1,22.15,22.2,22.25,22.3,22.35,22.4,22.45,22.5,22.55,22.6,22.65,22.7], "labelExpr": "abs(datum.value*10 - round(datum.value*10)) < 0.01 ? format(datum.value, '.1f') : ''", "tickSize": 6, "labelPadding": 4, "title": null}},
         "y": {"field": "v", "type": "quantitative", "scale": {"domain": [0, 3.5], "nice": false},
               "axis": {"orient": "left", "zindex": 1, "values": [0,0.25,0.5,0.75,1,1.25,1.5,1.75,2,2.25,2.5,2.75,3,3.25,3.5], "labelExpr": "abs(datum.value*2 - round(datum.value*2)) < 0.01 ? format(datum.value, '.1f') : ''", "tickSize": {"condition": {"test": "abs(datum.value*2 - round(datum.value*2)) < 0.01", "value": 10}, "value": 5}, "labelPadding": 6, "title": "RMS WS [m/s]", "titlePadding": 8}},
         "color": {"field": "k", "type": "nominal",
                   "scale": {"domain": ["S","I","T","W","R","A","E"], "range": ["#000000","#A0C820","#F57F20","#0000FF","#44D7CF","#8A2BE2","#FF0000"]},
                   "legend": null}
       }},
      {"data": {"name": "eraBot"}, "mark": {"type": "line", "strokeWidth": 2.2, "clip": true},
       "encoding": {
         "x": {"field": "x", "type": "quantitative", "scale": {"domain": [21.622, 22.7], "nice": false, "zero": false},
               "axis": {"orient": "bottom", "zindex": 1, "values": [21.65,21.7,21.75,21.8,21.85,21.9,21.95,22,22.05,22.1,22.15,22.2,22.25,22.3,22.35,22.4,22.45,22.5,22.55,22.6,22.65,22.7], "labelExpr": "abs(datum.value*10 - round(datum.value*10)) < 0.01 ? format(datum.value, '.1f') : ''", "tickSize": 6, "labelPadding": 4, "title": null}},
         "y": {"field": "v", "type": "quantitative", "scale": {"domain": [0, 3.5], "nice": false},
               "axis": {"orient": "left", "zindex": 1, "values": [0,0.25,0.5,0.75,1,1.25,1.5,1.75,2,2.25,2.5,2.75,3,3.25,3.5], "labelExpr": "abs(datum.value*2 - round(datum.value*2)) < 0.01 ? format(datum.value, '.1f') : ''", "tickSize": {"condition": {"test": "abs(datum.value*2 - round(datum.value*2)) < 0.01", "value": 10}, "value": 5}, "labelPadding": 6, "title": "RMS WS [m/s]", "titlePadding": 8}},
         "color": {"datum": "E"}
       }}
    ]},
    {"data": {"name": "land"}, "mark": {"type": "rect", "color": "#999999", "stroke": "#d8d8d8", "strokeWidth": 1},
     "encoding": {
       "x": {"field": "a", "type": "quantitative", "scale": {"domain": [21.622, 22.7], "nice": false, "zero": false}, "axis": null},
       "x2": {"field": "b"}
     }},
    {"data": {"name": "land"}, "mark": {"type": "text", "angle": 306, "align": "left", "baseline": "bottom", "fontSize": 17, "fontWeight": "bold", "font": "Liberation Sans", "color": "black"},
     "encoding": {
       "x": {"field": "t", "type": "quantitative", "scale": {"domain": [21.622, 22.7], "nice": false, "zero": false}, "axis": null},
       "y": {"datum": 0.8, "type": "quantitative", "scale": {"domain": [0, 15], "nice": false}, "axis": null},
       "text": {"field": "n"}
     }}
  ]
}
]
}
